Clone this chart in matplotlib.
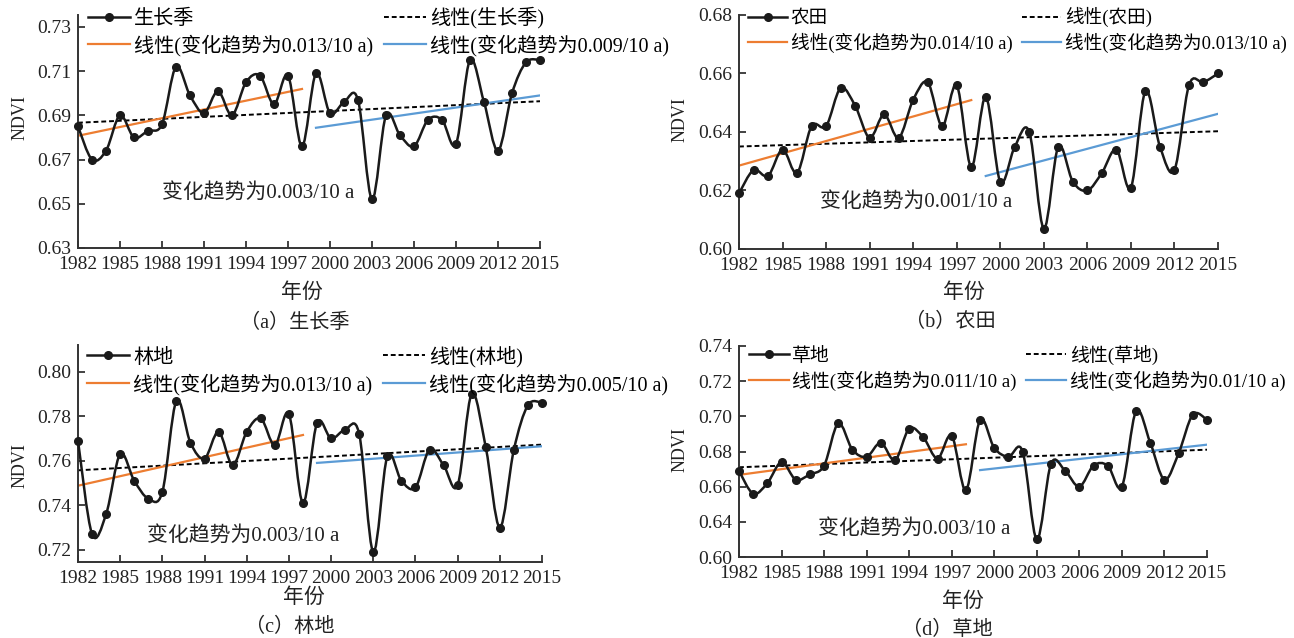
import numpy as np
import matplotlib
matplotlib.use('Agg')
import matplotlib.pyplot as plt
from matplotlib.path import Path
from matplotlib.patches import PathPatch
from matplotlib.lines import Line2D

plt.rcParams['font.family'] = ['Liberation Serif', 'Noto Sans CJK SC']
plt.rcParams['font.weight'] = 'light'
plt.rcParams['axes.unicode_minus'] = False

W, H = 1294, 638

years = np.arange(1982, 2016)

# NDVI 年均值
ndvi_gs = [0.685, 0.670, 0.674, 0.690, 0.680, 0.683, 0.686, 0.712, 0.699, 0.691,
           0.701, 0.690, 0.705, 0.708, 0.695, 0.708, 0.676, 0.709, 0.691, 0.696,
           0.697, 0.652, 0.690, 0.681, 0.676, 0.688, 0.688, 0.677, 0.715, 0.696,
           0.674, 0.700, 0.714, 0.715]
ndvi_farm = [0.619, 0.627, 0.625, 0.634, 0.626, 0.642, 0.642, 0.655, 0.649, 0.638,
             0.646, 0.638, 0.651, 0.657, 0.642, 0.656, 0.628, 0.652, 0.623, 0.635,
             0.640, 0.607, 0.635, 0.623, 0.620, 0.626, 0.634, 0.621, 0.654, 0.635,
             0.627, 0.656, 0.657, 0.660]
ndvi_forest = [0.769, 0.727, 0.736, 0.763, 0.751, 0.743, 0.746, 0.787, 0.768, 0.761,
               0.773, 0.758, 0.773, 0.779, 0.767, 0.781, 0.741, 0.777, 0.770, 0.774,
               0.772, 0.719, 0.762, 0.751, 0.748, 0.765, 0.758, 0.749, 0.790, 0.766,
               0.730, 0.765, 0.785, 0.786]
ndvi_grass = [0.669, 0.656, 0.662, 0.674, 0.664, 0.667, 0.672, 0.696, 0.681, 0.677,
              0.685, 0.675, 0.693, 0.688, 0.676, 0.689, 0.658, 0.698, 0.682, 0.677,
              0.680, 0.630, 0.673, 0.669, 0.660, 0.672, 0.672, 0.660, 0.703, 0.685,
              0.664, 0.679, 0.701, 0.698]

names = ['生长季', '农田', '林地', '草地']
captions = ['（a）生长季', '（b）农田', '（c）林地', '（d）草地']
trend1 = ['0.013', '0.014', '0.013', '0.011']
trend2 = ['0.009', '0.013', '0.005', '0.01']
trend_all = ['0.003', '0.001', '0.003', '0.003']

ORANGE = '#ED7D31'
BLUE = '#5B9BD5'
DARK = '#1a1a1a'


def smooth_path(x, y):
    # excel-like smoothed line: bezier segments through every point
    pts = np.column_stack([np.asarray(x, float), np.asarray(y, float)])
    n = len(pts)
    verts = [pts[0]]
    codes = [Path.MOVETO]
    for i in range(n - 1):
        p0 = pts[i - 1] if i > 0 else pts[i]
        p1, p2 = pts[i], pts[i + 1]
        p3 = pts[i + 2] if i + 2 < n else pts[i + 1]
        verts += [p1 + (p2 - p0) / 6, p2 - (p3 - p1) / 6, p2]
        codes += [Path.CURVE4] * 3
    return Path(verts, codes)


def px_rect(l, t, r, b):
    return [l / W, 1 - b / H, (r - l) / W, (b - t) / H]


fig = plt.figure(figsize=(W / 100, H / 100), dpi=100)

panels = [
    dict(vals=ndvi_gs, rect=(78, 15, 540, 248), ylim=(0.63, 0.7354),
         yticks=[0.63, 0.65, 0.67, 0.69, 0.71, 0.73], ylabels=None, legsize=14.5,
         note=(1988.0, 0.655), leg=(88, 7), ylab=(20, 118), xlab=(302, 293), cap=(295, 323)),
    dict(vals=ndvi_farm, rect=(739, 15, 1218, 249), ylim=(0.60, 0.68),
         yticks=[0.60, 0.62, 0.64, 0.66, 0.68], ylabels=None, legsize=13.4,
         note=(1987.6, 0.6162), leg=(748, 7), ylab=(680, 120), xlab=(964, 293), cap=(950, 322)),
    dict(vals=ndvi_forest, rect=(78, 345, 542, 562), ylim=(0.7145, 0.812),
         yticks=[0.72, 0.74, 0.76, 0.78, 0.80], ylabels=None, legsize=14.5,
         note=(1986.9, 0.7265), leg=(87, 346), ylab=(20, 466), xlab=(304, 598), cap=(290, 627)),
    dict(vals=ndvi_grass, rect=(739, 346, 1207, 557), ylim=(0.62, 0.74),
         yticks=[0.62, 0.64, 0.66, 0.68, 0.70, 0.72, 0.74],
         ylabels=['0.60', '0.64', '0.66', '0.68', '0.70', '0.72', '0.74'], legsize=13.6,
         note=(1987.6, 0.6362), leg=(749, 345), ylab=(680, 450), xlab=(963, 602), cap=(947, 630)),
]

for k, p in enumerate(panels):
    ax = fig.add_axes(px_rect(*p['rect']))
    vals = np.array(p['vals'])

    ax.add_patch(PathPatch(smooth_path(years, vals), fill=False, ec=DARK, lw=1.8, clip_on=False, zorder=3))
    ax.plot(years, vals, 'o', color=DARK, ms=5.5, ls='none', clip_on=False, zorder=4)

    first = years <= 1998
    second = years >= 1999
    f_all = np.polyfit(years, vals, 1)
    f1 = np.polyfit(years[first], vals[first], 1)
    f2 = np.polyfit(years[second], vals[second], 1)
    ax.plot(years, np.polyval(f_all, years), color='k', lw=1.4, ls=(0, (2.5, 1.5)), zorder=2)
    ax.plot(years[first], np.polyval(f1, years[first]), color=ORANGE, lw=1.6, zorder=2)
    ax.plot(years[second], np.polyval(f2, years[second]), color=BLUE, lw=1.6, zorder=2)

    ax.set_xlim(1982, 2015)
    ax.set_ylim(*p['ylim'])
    ax.set_xticks(np.arange(1982, 2016, 3))
    ax.set_yticks(p['yticks'])
    if p['ylabels'] is None:
        ax.set_yticklabels(['%.2f' % v for v in p['yticks']])
    else:
        ax.set_yticklabels(p['ylabels'])
    ax.tick_params(direction='in', length=5, width=1.2, labelsize=14, colors='#222222')
    ax.tick_params(axis='x', pad=6)
    ax.tick_params(axis='y', pad=5)
    for s in ['top', 'right']:
        ax.spines[s].set_visible(False)
    for s in ['left', 'bottom']:
        ax.spines[s].set_linewidth(1.4)
        ax.spines[s].set_color('#333333')

    ax.text(p['note'][0], p['note'][1], '变化趋势为%s/10 a' % trend_all[k], fontsize=15,
            ha='left', va='center', color='#222222')

    handles = [Line2D([], [], color=DARK, marker='o', ms=5.5, lw=1.8),
               Line2D([], [], color=ORANGE, lw=1.6),
               Line2D([], [], color='k', lw=1.4, ls=(0, (2.5, 1.5))),
               Line2D([], [], color=BLUE, lw=1.6)]
    labels = [names[k],
              '线性(变化趋势为%s/10 a)' % trend1[k],
              '线性(%s)' % names[k],
              '线性(变化趋势为%s/10 a)' % trend2[k]]
    fig.legend(handles, labels, ncol=2, loc='upper left', frameon=False,
               bbox_to_anchor=(p['leg'][0] / W, 1 - p['leg'][1] / H),
               borderpad=0, borderaxespad=0, handlelength=2.1, handletextpad=0.2,
               columnspacing=0.5, labelspacing=0.3, prop={'size': p['legsize']})

    fig.text(p['ylab'][0] / W, 1 - p['ylab'][1] / H, 'NDVI', rotation=90, fontsize=13,
             ha='center', va='center', color='#222222')
    fig.text(p['xlab'][0] / W, 1 - p['xlab'][1] / H, '年份', fontsize=15,
             ha='center', va='center', color='#222222')
    fig.text(p['cap'][0] / W, 1 - p['cap'][1] / H, captions[k], fontsize=14.5,
             ha='center', va='center', color='#222222')

plt.savefig('out.png', dpi=100)
